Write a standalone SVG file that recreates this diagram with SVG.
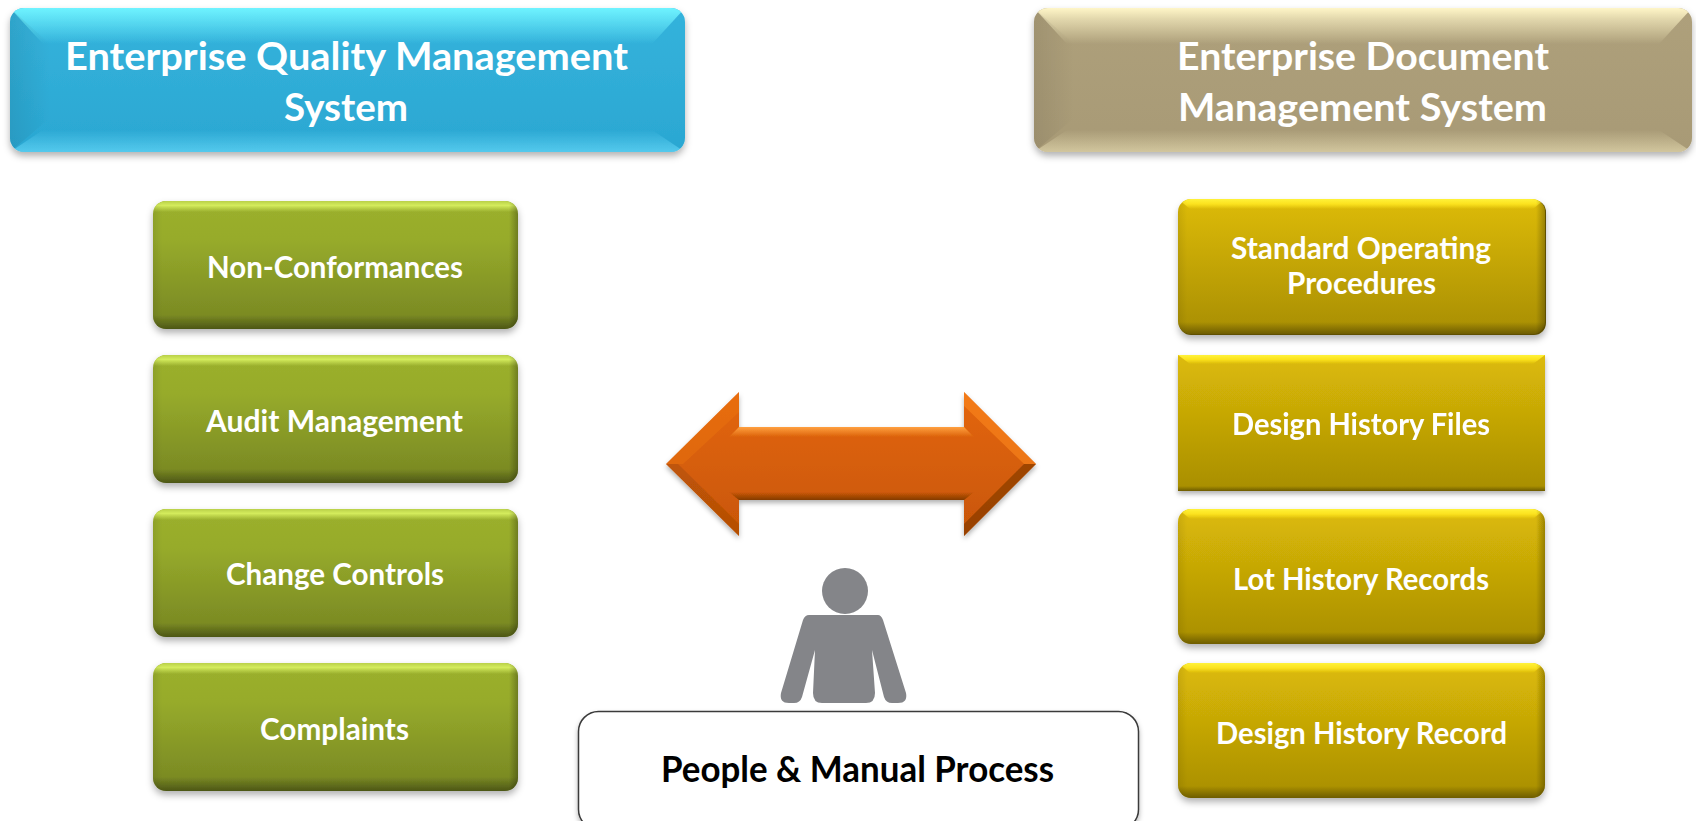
<svg xmlns="http://www.w3.org/2000/svg" width="1696" height="821" viewBox="0 0 1696 821">
<style>
text{font-family:Lato,"Liberation Sans",sans-serif;font-weight:700;fill:#fff;text-anchor:start}
.h{font-size:39px}.b{font-size:29.5px}.k{font-size:35.500px;fill:#000}
</style>
<defs>
<filter id="sh" x="-5%" y="-10%" width="110%" height="125%"><feDropShadow dx="0" dy="4" stdDeviation="3.5" flood-color="#000" flood-opacity=".3"/></filter>
<filter id="sh2" x="-5%" y="-5%" width="110%" height="115%"><feDropShadow dx="0" dy="3" stdDeviation="2.5" flood-color="#000" flood-opacity=".3"/></filter>
<linearGradient id="bg" x2="0" y2="1"><stop offset="0" stop-color="#34B3DC"/><stop offset="1" stop-color="#2BA7D2"/></linearGradient>
<linearGradient id="tg" x2="0" y2="1"><stop offset="0" stop-color="#AEA07B"/><stop offset="1" stop-color="#A89A76"/></linearGradient>
<linearGradient id="gg" x2="0" y2="1"><stop offset="0" stop-color="#9BB02D"/><stop offset=".3" stop-color="#97AB2B"/><stop offset="1" stop-color="#768522"/></linearGradient>
<linearGradient id="yg" x2="0" y2="1"><stop offset="0" stop-color="#DDBB08"/><stop offset="1" stop-color="#A88E03"/></linearGradient>
<linearGradient id="og" x2="0" y2="1"><stop offset="0" stop-color="#E4660B"/><stop offset="1" stop-color="#C85606"/></linearGradient>
<linearGradient id="topB" x2="0" y2="1"><stop offset="0" stop-color="#6FF3FF"/><stop offset=".3" stop-color="#6FF3FF" stop-opacity=".7"/><stop offset="1" stop-color="#6FF3FF" stop-opacity="0"/></linearGradient>
<linearGradient id="botB" x2="0" y2="1"><stop offset="0" stop-color="#6FE0FF" stop-opacity="0"/><stop offset="1" stop-color="#6FE0FF" stop-opacity=".6"/></linearGradient>
<linearGradient id="topT" x2="0" y2="1"><stop offset="0" stop-color="#FFF6C8"/><stop offset=".3" stop-color="#FFF6C8" stop-opacity=".65"/><stop offset="1" stop-color="#FFF6C8" stop-opacity="0"/></linearGradient>
<linearGradient id="botT" x2="0" y2="1"><stop offset="0" stop-color="#EDE3B8" stop-opacity="0"/><stop offset="1" stop-color="#EDE3B8" stop-opacity=".6"/></linearGradient>
<linearGradient id="topG" x2="0" y2="1"><stop offset="0" stop-color="#B9D04A"/><stop offset=".4" stop-color="#D4EC5C"/><stop offset="1" stop-color="#CFE65A" stop-opacity="0"/></linearGradient>
<linearGradient id="botD" x2="0" y2="1"><stop offset="0" stop-color="#000" stop-opacity="0"/><stop offset="1" stop-color="#000" stop-opacity=".35"/></linearGradient>
<linearGradient id="topY" x2="0" y2="1"><stop offset="0" stop-color="#FFF23A"/><stop offset=".5" stop-color="#FBE21E"/><stop offset="1" stop-color="#FBE21E" stop-opacity="0"/></linearGradient>
<linearGradient id="lD" x2="1" y2="0"><stop offset="0" stop-color="#000" stop-opacity=".08"/><stop offset="1" stop-color="#000" stop-opacity="0"/></linearGradient>
<linearGradient id="rD" x2="1" y2="0"><stop offset="0" stop-color="#000" stop-opacity="0"/><stop offset="1" stop-color="#000" stop-opacity=".28"/></linearGradient>
<linearGradient id="topO" x2="0" y2="1"><stop offset="0" stop-color="#FFA040"/><stop offset="1" stop-color="#FFA040" stop-opacity="0"/></linearGradient>
<linearGradient id="botO" x2="0" y2="1"><stop offset="0" stop-color="#5A2A00" stop-opacity="0"/><stop offset="1" stop-color="#5A2A00" stop-opacity=".65"/></linearGradient>
<clipPath id="cH"><rect width="675" height="144" rx="14"/></clipPath>
<clipPath id="cT"><rect width="658" height="144" rx="14"/></clipPath>
<clipPath id="cG"><rect width="365" height="128" rx="13"/></clipPath>
<clipPath id="cY"><rect width="367" height="135" rx="13"/></clipPath>
<g id="blue" clip-path="url(#cH)"><rect width="675" height="144" fill="url(#bg)"/><polygon points="0,0 675,0 642,36 33,36" fill="url(#topB)"/><polygon points="33,122 642,122 675,144 0,144" fill="url(#botB)"/><polygon points="0,0 40,36 40,110 0,144" fill="url(#lD)"/></g>
<g id="taupe" clip-path="url(#cT)"><rect width="658" height="144" fill="url(#tg)"/><polygon points="0,0 658,0 625,36 33,36" fill="url(#topT)"/><polygon points="33,122 625,122 658,144 0,144" fill="url(#botT)"/><polygon points="0,0 40,36 40,110 0,144" fill="url(#lD)"/></g>
<g id="green" clip-path="url(#cG)"><rect width="365" height="128" fill="url(#gg)"/><rect width="365" height="11" fill="url(#topG)"/><rect y="114" width="365" height="14" fill="url(#botD)"/><rect width="9" height="128" fill="url(#lD)"/><rect x="356" width="9" height="128" fill="url(#rD)"/></g>
<g id="gold" clip-path="url(#cY)"><rect width="367" height="135" fill="url(#yg)"/><polygon points="0,0 367,0 355,10 12,10" fill="url(#topY)"/><rect y="123" width="367" height="12" fill="url(#botD)"/><rect width="9" height="135" fill="url(#lD)"/><rect x="358" width="9" height="135" fill="url(#rD)"/></g>
</defs>

<g id="connectors">
<g id="double-arrow" filter="url(#sh2)">
<polygon points="666,464 739,392 739,427 964,427 964,392 1036,464 964,536 964,500 739,500 739,536" fill="url(#og)"/>
<polygon points="739,427 964,427 974,437 729,437" fill="url(#topO)"/>
<polygon points="729,492 974,492 964,500 739,500" fill="url(#botO)"/>
<polygon points="739,392 739,412 683,464 666,464" fill="#F07A18" opacity=".35"/>
<polygon points="964,392 1036,464 1024,464 964,406" fill="#FF8A20" opacity=".55"/>
<polygon points="666,464 678,464 739,524 739,536" fill="#8A3E05" opacity=".3"/>
<polygon points="1036,464 1024,464 964,524 964,536" fill="#7A3504" opacity=".6"/>
</g>
</g>

<g id="quality-header" filter="url(#sh)"><use href="#blue" x="10" y="8"/></g>
<g id="quality-title"><text class="h" x="65" y="69.500" textLength="563" lengthAdjust="spacingAndGlyphs">Enterprise Quality Management</text><text class="h" x="284" y="120.500" textLength="124" lengthAdjust="spacingAndGlyphs">System</text></g>

<g id="document-header" filter="url(#sh)"><use href="#taupe" x="1034" y="8"/></g>
<g id="document-title"><text class="h" x="1177" y="69.500" textLength="372" lengthAdjust="spacingAndGlyphs">Enterprise Document</text><text class="h" x="1178" y="120.500" textLength="369" lengthAdjust="spacingAndGlyphs">Management System</text></g>

<g id="non-conformances"><use href="#green" x="153" y="201" filter="url(#sh)"/><text class="b" x="207" y="278" textLength="256" lengthAdjust="spacingAndGlyphs">Non-Conformances</text></g>
<g id="audit-management"><use href="#green" x="153" y="355" filter="url(#sh)"/><text class="b" x="206" y="432" textLength="257" lengthAdjust="spacingAndGlyphs">Audit Management</text></g>
<g id="change-controls"><use href="#green" x="153" y="509" filter="url(#sh)"/><text class="b" x="226" y="585" textLength="218" lengthAdjust="spacingAndGlyphs">Change Controls</text></g>
<g id="complaints"><use href="#green" x="153" y="663" filter="url(#sh)"/><text class="b" x="260" y="740" textLength="149" lengthAdjust="spacingAndGlyphs">Complaints</text></g>

<g id="standard-operating-procedures"><rect x="1179" y="200" width="367" height="135" rx="12" fill="#5F5000" filter="url(#sh)"/><use href="#gold" x="1178" y="199"/><text class="b" x="1231" y="259" textLength="260" lengthAdjust="spacingAndGlyphs">Standard Operating</text><text class="b" x="1287" y="294" textLength="149" lengthAdjust="spacingAndGlyphs">Procedures</text></g>
<g id="design-history-files" filter="url(#sh2)"><rect x="1178" y="355" width="367" height="136" fill="url(#yg)"/><polygon points="1178,355 1545,355 1533,364 1190,364" fill="url(#topY)"/><rect x="1178" y="486" width="367" height="5" fill="url(#botD)"/><text class="b" x="1232" y="435" textLength="258" lengthAdjust="spacingAndGlyphs">Design History Files</text></g>
<g id="lot-history-records"><use href="#gold" x="1178" y="509" filter="url(#sh)"/><text class="b" x="1233" y="590" textLength="256" lengthAdjust="spacingAndGlyphs">Lot History Records</text></g>
<g id="design-history-record"><use href="#gold" x="1178" y="663" filter="url(#sh)"/><text class="b" x="1216" y="744" textLength="291" lengthAdjust="spacingAndGlyphs">Design History Record</text></g>

<g id="person" fill="#848589">
<ellipse cx="845" cy="591" rx="23" ry="23"/>
<path d="M809,615H878Q881,615 883,620L906,693Q908,703 898,703H892Q886,703 884,697L872,650L875,693Q875,703 866,703H822Q813,703 813,693L815,650L802,697Q800,703 794,703H789Q779,703 781,693L803,620Q805,615 809,615Z"/>
</g>
<g id="people-manual-process"><rect x="578.500" y="711.500" width="560" height="118" rx="20" fill="#fff" stroke="#3a3a3a" stroke-width="1.500" filter="url(#sh2)"/><text class="k" x="661" y="782" textLength="393" lengthAdjust="spacingAndGlyphs">People &amp; Manual Process</text></g>
</svg>
